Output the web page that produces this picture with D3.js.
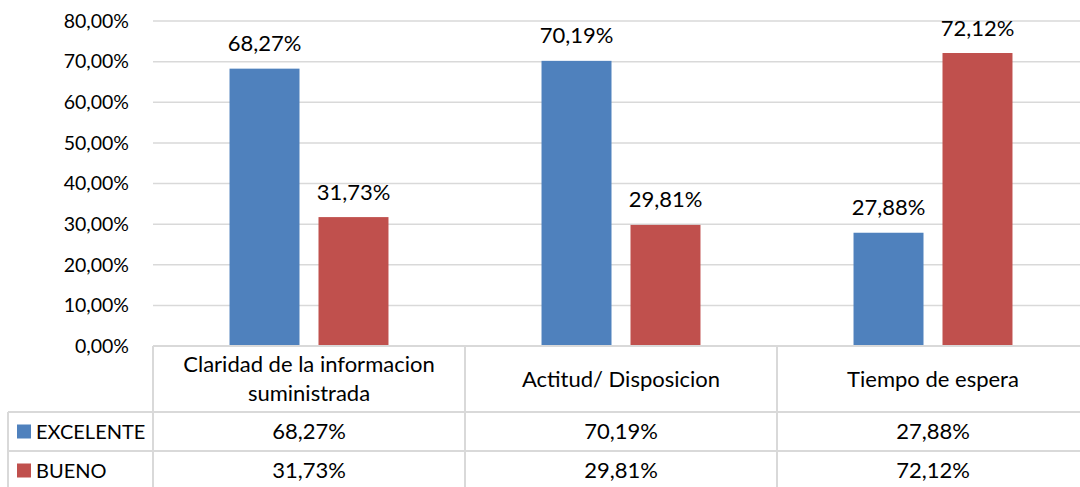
<!DOCTYPE html>
<html>
<head>
<meta charset="utf-8">
<script src="https://cdn.jsdelivr.net/npm/d3@7"></script>
<style>
  html, body { margin: 0; padding: 0; background: #fff; }
  svg text { font-family: Lato, "Open Sans", sans-serif; fill: #000; }
</style>
</head>
<body>
<svg id="chart" width="1080" height="487"></svg>
<script>
// Categories and series values (percent)
const categories = [["Claridad de la informacion", "suministrada"], ["Actitud/ Disposicion"], ["Tiempo de espera"]];
const seriesNames = ["EXCELENTE", "BUENO"];
const excelente = [68.27, 70.19, 27.88];
const bueno = [31.73, 29.81, 72.12];
const yTicks = [0, 10, 20, 30, 40, 50, 60, 70, 80];
const colors = ["#4F81BD", "#C0504D"];

const seriesValues = [excelente, bueno];
const fmt = v => v.toFixed(2).replace(".", ",") + "%";

const svg = d3.select("#chart");
const plot = { left: 153, right: 1089, top: 21, bottom: 346 };
const gridColor = "#d9d9d9";
const axisFont = 19.5;
const labelFont = 22;
const legendFont = 20;

const x0 = d3.scaleBand().domain(d3.range(categories.length)).range([plot.left, plot.right]).padding(0);
const x1 = d3.scaleBand().domain(d3.range(seriesNames.length)).range([0, x0.bandwidth()])
  .paddingInner(0.2135).paddingOuter(0.86);
const y = d3.scaleLinear().domain([0, 80]).range([plot.bottom, plot.top]);

// Gridlines
svg.append("g").selectAll("line").data(yTicks.filter(t => t > 0)).join("line")
  .attr("x1", plot.left).attr("x2", plot.right)
  .attr("y1", d => y(d)).attr("y2", d => y(d))
  .attr("stroke", gridColor).attr("stroke-width", 1.5);

// Y axis labels
const yAxis = d3.axisLeft(y).tickValues(yTicks).tickFormat(fmt).tickSize(0).tickPadding(24);
const ya = svg.append("g").attr("transform", `translate(${plot.left},0)`).call(yAxis);
ya.select(".domain").remove();
ya.selectAll("text").style("font-size", axisFont + "px").style("font-family", "Lato, sans-serif").attr("fill", "#000");

// Bars
const groups = svg.append("g").selectAll("g").data(categories.map((c, i) => i)).join("g")
  .attr("transform", i => `translate(${x0(i)},0)`);
groups.selectAll("rect").data(i => seriesValues.map((s, k) => ({ k, v: s[i] }))).join("rect")
  .attr("x", d => x1(d.k)).attr("width", x1.bandwidth())
  .attr("y", d => y(d.v)).attr("height", d => y(0) - y(d.v))
  .attr("fill", d => colors[d.k]);

// Data labels
groups.selectAll("text.lbl").data(i => seriesValues.map((s, k) => ({ k, v: s[i] }))).join("text")
  .attr("class", "lbl")
  .attr("x", d => x1(d.k) + x1.bandwidth() / 2)
  .attr("y", d => y(d.v) - 17.5)
  .attr("text-anchor", "middle")
  .style("font-size", labelFont + "px")
  .text(d => fmt(d.v));

// Data table
const rowLines = [346, 412, 451, 490];
const tableLeft = 8;
const tbl = svg.append("g");
tbl.append("line").attr("x1", plot.left).attr("x2", plot.right).attr("y1", rowLines[0]).attr("y2", rowLines[0])
  .attr("stroke", gridColor).attr("stroke-width", 2);
[1, 2, 3].forEach(r => {
  tbl.append("line").attr("x1", tableLeft).attr("x2", plot.right).attr("y1", rowLines[r]).attr("y2", rowLines[r])
    .attr("stroke", gridColor).attr("stroke-width", 2);
});
tbl.append("line").attr("x1", tableLeft).attr("x2", tableLeft).attr("y1", rowLines[1]).attr("y2", rowLines[3])
  .attr("stroke", gridColor).attr("stroke-width", 2);
d3.range(categories.length + 1).forEach(i => {
  const xx = i < categories.length ? x0(i) : plot.right;
  tbl.append("line").attr("x1", xx).attr("x2", xx).attr("y1", rowLines[0]).attr("y2", rowLines[3])
    .attr("stroke", gridColor).attr("stroke-width", 2);
});

// Category header labels
categories.forEach((lines, i) => {
  const cx = x0(i) + x0.bandwidth() / 2;
  const cy = (rowLines[0] + rowLines[1]) / 2;
  const lh = 29.5;
  const t = tbl.append("text").attr("text-anchor", "middle").style("font-size", labelFont + "px");
  lines.forEach((ln, j) => {
    t.append("tspan").attr("x", cx)
      .attr("y", cy + (j - (lines.length - 1) / 2) * lh)
      .attr("dy", "0.35em").text(ln);
  });
});

// Series rows: legend key + values
seriesNames.forEach((name, k) => {
  const cy = (rowLines[k + 1] + rowLines[k + 2]) / 2;
  tbl.append("rect").attr("x", 17).attr("y", cy - 7).attr("width", 14).attr("height", 14).attr("fill", colors[k]);
  tbl.append("text").attr("x", 36).attr("y", cy).attr("dy", "0.35em").style("font-size", legendFont + "px").text(name);
  seriesValues[k].forEach((v, i) => {
    tbl.append("text").attr("x", x0(i) + x0.bandwidth() / 2).attr("y", cy).attr("dy", "0.35em")
      .attr("text-anchor", "middle").style("font-size", labelFont + "px").text(fmt(v));
  });
});
</script>
</body>
</html>
